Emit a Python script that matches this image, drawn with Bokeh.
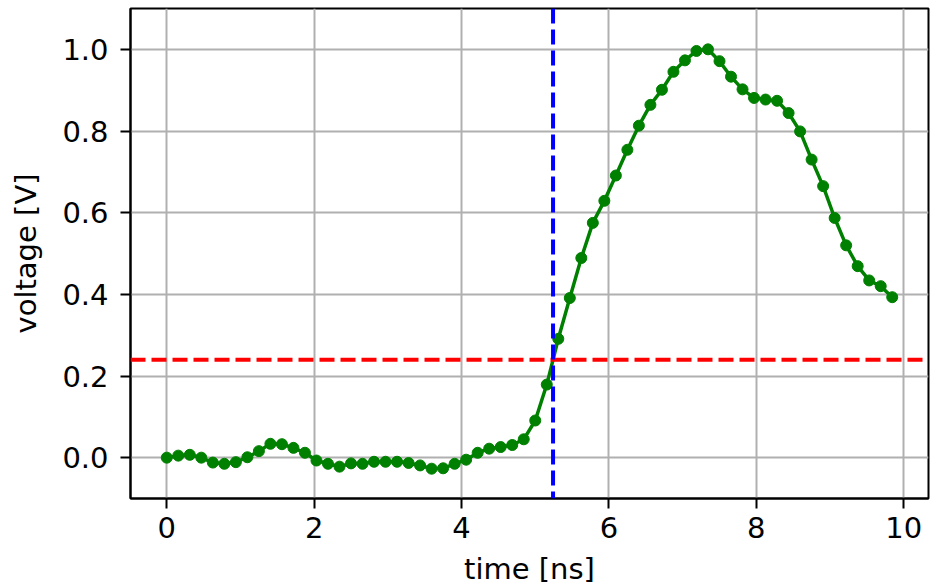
import numpy as np
from bokeh.plotting import figure
from bokeh.models import Range1d, Span, FixedTicker, NumeralTickFormatter, ColumnDataSource
from bokeh.embed import file_html
from bokeh.resources import INLINE

# sample spacing in ns (64 samples)
dt_ns = 0.15625
voltage = [
    0.000, 0.005, 0.007, 0.000, -0.012, -0.015, -0.011, 0.001,
    0.016, 0.034, 0.033, 0.024, 0.012, -0.007, -0.015, -0.022,
    -0.014, -0.015, -0.010, -0.010, -0.010, -0.013, -0.019, -0.027,
    -0.026, -0.015, -0.005, 0.012, 0.022, 0.026, 0.031, 0.045,
    0.091, 0.179, 0.291, 0.391, 0.489, 0.575, 0.629, 0.691,
    0.754, 0.813, 0.864, 0.901, 0.945, 0.973, 0.996, 1.000,
    0.971, 0.933, 0.902, 0.881, 0.877, 0.874, 0.844, 0.799,
    0.730, 0.665, 0.587, 0.520, 0.469, 0.434, 0.420, 0.393,
]
time_ns = [i * dt_ns for i in range(len(voltage))]
threshold = 0.24
x_ticks = [0, 2, 4, 6, 8, 10]
y_ticks = [0.0, 0.2, 0.4, 0.6, 0.8, 1.0]
y_limits = (-0.1, 1.1)

# crossing time by linear interpolation
t_cross = None
for i in range(1, len(voltage)):
    if voltage[i - 1] < threshold <= voltage[i]:
        f = (threshold - voltage[i - 1]) / (voltage[i] - voltage[i - 1])
        t_cross = time_ns[i - 1] + f * (time_ns[i] - time_ns[i - 1])
        break

FONT = "DejaVu Sans"
FS = "29px"

span = time_ns[-1] - time_ns[0]
p = figure(width=932, height=588, output_backend="svg", toolbar_location=None,
           x_range=Range1d(time_ns[0] - 0.05 * span, time_ns[-1] + 0.05 * span),
           y_range=Range1d(*y_limits),
           min_border_left=130, min_border_right=4, min_border_top=8, min_border_bottom=90)

p.background_fill_color = "white"
p.border_fill_color = "white"
p.outline_line_color = "black"
p.outline_line_width = 2
p.outline_line_alpha = 1.0

src = ColumnDataSource(dict(t=time_ns, v=voltage))
p.line("t", "v", source=src, line_color="green", line_width=3.5)
p.scatter("t", "v", source=src, size=11, fill_color="green", line_color="green")

p.add_layout(Span(location=threshold, dimension="width", line_color="red",
                  line_dash="15 6", line_width=4))
p.add_layout(Span(location=t_cross, dimension="height", line_color="blue",
                  line_dash="15 6", line_width=4))

p.xaxis.ticker = FixedTicker(ticks=x_ticks)
p.yaxis.ticker = FixedTicker(ticks=y_ticks)
p.yaxis.formatter = NumeralTickFormatter(format="0.0")
p.xaxis.axis_label = "time [ns]"
p.yaxis.axis_label = "voltage [V]"

for ax in (p.xaxis, p.yaxis):
    ax.axis_label_text_font = FONT
    ax.axis_label_text_font_size = FS
    ax.axis_label_text_font_style = "normal"
    ax.axis_label_text_color = "black"
    ax.major_label_text_font = FONT
    ax.major_label_text_font_size = FS
    ax.major_label_text_color = "black"
    ax.axis_line_color = "black"
    ax.axis_line_width = 2
    ax.major_tick_line_color = "black"
    ax.major_tick_line_width = 2
    ax.major_tick_out = 10
    ax.major_tick_in = 0
    ax.minor_tick_out = 0
    ax.minor_tick_in = 0

p.xaxis.major_label_standoff = 8
p.yaxis.major_label_standoff = 12
p.xaxis.axis_label_standoff = 11
p.yaxis.axis_label_standoff = 16

p.xgrid.grid_line_color = "#b0b0b0"
p.ygrid.grid_line_color = "#b0b0b0"
p.xgrid.grid_line_width = 2
p.ygrid.grid_line_width = 2

open("out.html", "w").write(file_html(p, INLINE))
